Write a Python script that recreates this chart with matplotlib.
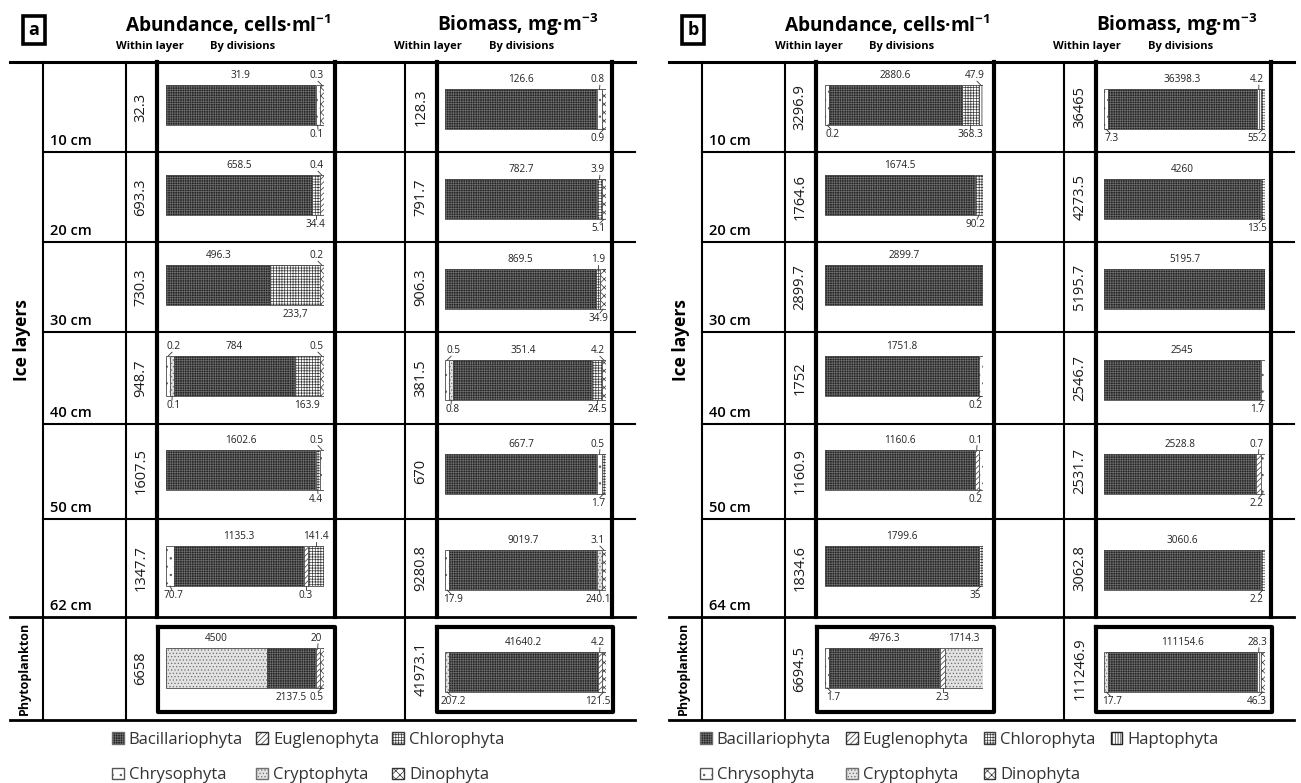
import numpy as np
import matplotlib.pyplot as plt
from matplotlib.patches import Patch

plt.rcParams['font.family'] = ['Open Sans', 'DejaVu Sans']
plt.rcParams['mathtext.default'] = 'regular'
plt.rcParams['hatch.linewidth'] = 0.5

W, H = 1301, 783

# pattern per division: face colour, hatch, hatch colour
styles = {
    "B": ("#232323", "+++++++", "#6c6c6c"),  # Bacillariophyta
    "E": ("white", "//////", "#333333"),     # Euglenophyta
    "C": ("white", "++++++", "#3a3a3a"),     # Chlorophyta
    "H": ("white", "||||||", "#222222"),     # Haptophyta
    "Y": ("white", "..", "#555555"),         # Chrysophyta
    "R": ("#e2e2e2", ".....", "#6f6f6f"),    # Cryptophyta
    "D": ("white", "xxxx", "#333333"),       # Dinophyta
}
names = {"B": "Bacillariophyta", "E": "Euglenophyta", "C": "Chlorophyta", "H": "Haptophyta",
         "Y": "Chrysophyta", "R": "Cryptophyta", "D": "Dinophyta"}

depths_a = ["10 cm", "20 cm", "30 cm", "40 cm", "50 cm", "62 cm"]
depths_b = ["10 cm", "20 cm", "30 cm", "40 cm", "50 cm", "64 cm"]

# totals within layer (last item = phytoplankton)
abund_tot_a = ["32.3", "693.3", "730.3", "948.7", "1607.5", "1347.7", "6658"]
bio_tot_a = ["128.3", "791.7", "906.3", "381.5", "670", "9280.8", "41973.1"]
abund_tot_b = ["3296.9", "1764.6", "2899.7", "1752", "1160.9", "1834.6", "6694.5"]
bio_tot_b = ["36465", "4273.5", "5195.7", "2546.7", "2531.7", "3062.8", "111246.9"]

# by divisions: (division, value, label above/below), left to right
abund_a = [
    [("B", "31.9", "u"), ("Y", "0.1", "d"), ("D", "0.3", "u")],
    [("B", "658.5", "u"), ("C", "34.4", "d"), ("E", "0.4", "u")],
    [("B", "496.3", "u"), ("C", "233,7", "d"), ("D", "0.2", "u")],
    [("Y", "0.2", "u"), ("R", "0.1", "d"), ("B", "784", "u"), ("C", "163.9", "d"), ("D", "0.5", "u")],
    [("B", "1602.6", "u"), ("C", "4.4", "d"), ("Y", "0.5", "u")],
    [("Y", "70.7", "d"), ("B", "1135.3", "u"), ("E", "0.3", "d"), ("C", "141.4", "u")],
    [("R", "4500", "u"), ("B", "2137.5", "d"), ("E", "20", "u"), ("D", "0.5", "d")],
]
bio_a = [
    [("B", "126.6", "u"), ("Y", "0.8", "u"), ("D", "0.9", "d")],
    [("B", "782.7", "u"), ("C", "3.9", "u"), ("D", "5.1", "d")],
    [("B", "869.5", "u"), ("C", "1.9", "u"), ("D", "34.9", "d")],
    [("Y", "0.5", "u"), ("R", "0.8", "d"), ("B", "351.4", "u"), ("C", "24.5", "d"), ("D", "4.2", "u")],
    [("B", "667.7", "u"), ("Y", "0.5", "u"), ("C", "1.7", "d")],
    [("Y", "17.9", "d"), ("B", "9019.7", "u"), ("R", "240.1", "d"), ("D", "3.1", "u")],
    [("R", "207.2", "d"), ("B", "41640.2", "u"), ("E", "4.2", "u"), ("D", "121.5", "d")],
]
abund_b = [
    [("Y", "0.2", "d"), ("B", "2880.6", "u"), ("C", "368.3", "d"), ("H", "47.9", "u")],
    [("B", "1674.5", "u"), ("C", "90.2", "d")],
    [("B", "2899.7", "u")],
    [("B", "1751.8", "u"), ("Y", "0.2", "d")],
    [("B", "1160.6", "u"), ("E", "0.1", "u"), ("Y", "0.2", "d")],
    [("B", "1799.6", "u"), ("C", "35", "d")],
    [("Y", "1.7", "d"), ("B", "4976.3", "u"), ("E", "2.3", "d"), ("R", "1714.3", "u")],
]
bio_b = [
    [("Y", "7.3", "d"), ("B", "36398.3", "u"), ("H", "4.2", "u"), ("C", "55.2", "d")],
    [("B", "4260", "u"), ("C", "13.5", "d")],
    [("B", "5195.7", "u")],
    [("B", "2545", "u"), ("Y", "1.7", "d")],
    [("B", "2528.8", "u"), ("E", "0.7", "u"), ("Y", "2.2", "d")],
    [("B", "3060.6", "u"), ("C", "2.2", "d")],
    [("R", "17.7", "d"), ("B", "111154.6", "u"), ("H", "28.3", "u"), ("D", "46.3", "d")],
]

row_y = [62, 152, 242, 332, 424, 519, 617, 720]

fig = plt.figure(figsize=(W / 100, H / 100), dpi=100)
bg = fig.add_axes([0, 0, 1, 1])
bg.set_xlim(0, W)
bg.set_ylim(H, 0)
bg.axis('off')


def px_axes(x0, x1, y0, y1):
    return fig.add_axes([x0 / W, 1 - y1 / H, (x1 - x0) / W, (y1 - y0) / H])


def draw_bar(ax, segs, row_h, floor=0.028):
    vals = np.array([float(v.replace(',', '.')) for _, v, _ in segs])
    total = vals.sum()
    widths = np.maximum(vals, floor * total)
    lefts = np.concatenate([[0], np.cumsum(widths)[:-1]])
    span = widths.sum()
    ax.set_xlim(0, span)
    ax.set_ylim(0, 1)
    ax.axis('off')
    yc, bh, gap = 0.52, 40 / row_h, 4 / row_h
    top, bot = yc + bh / 2, yc - bh / 2
    big = np.argmax(vals)
    for i, ((g, txt, pos), w, l, v) in enumerate(zip(segs, widths, lefts, vals)):
        face, hatch, hc = styles[g]
        ax.barh(yc, w, left=l, height=bh, color=face, hatch=hatch, edgecolor=hc, linewidth=0)
        ax.barh(yc, w, left=l, height=bh, fill=False, edgecolor='#4a4a4a', linewidth=0.6)
        cx = l + w / 2
        lx = min(max(cx, 0.05 * span), 0.95 * span)
        if pos == 'u':
            ly, va, edge = top + gap, 'bottom', top
        else:
            ly, va, edge = bot - gap, 'top', bot
        ax.text(lx, ly, txt, ha='center', va=va, fontsize=7.2, color='#222222')
        if i != big and v / total < 0.15:
            ax.plot([lx + 0.012 * span * np.sign(cx - lx), cx], [ly, edge],
                    color='#333333', lw=0.6, clip_on=False)


def draw_panel(x0, tag, depths, a_tot, b_tot, a_segs, b_segs):
    lw_thin, lw_thick = 1.5, 3.0
    bg.text(x0 + 34, 30, tag, fontsize=13, weight='bold', ha='center', va='center',
            bbox=dict(boxstyle='square,pad=0.3', fc='white', ec='black', lw=2.6))
    bg.text(x0 + 228, 25, "Abundance, cells·ml$^{-1}$", fontsize=13.8, weight='bold',
            ha='center', va='center')
    bg.text(x0 + 518, 25, "Biomass, mg·m$^{-3}$", fontsize=13.8, weight='bold',
            ha='center', va='center')
    for xc, t in [(150, "Within layer"), (243, "By divisions"), (428, "Within layer"), (522, "By divisions")]:
        bg.text(x0 + xc, 47, t, fontsize=8, weight='bold', ha='center', va='center')

    # table grid
    bg.plot([x0 + 10, x0 + 635], [62, 62], color='black', lw=2.2)
    for y in row_y[1:6]:
        bg.plot([x0 + 43, x0 + 635], [y, y], color='black', lw=lw_thin)
    for y in row_y[6:]:
        bg.plot([x0 + 10, x0 + 635], [y, y], color='black', lw=2.0)
    for x in [43, 126, 405]:
        bg.plot([x0 + x, x0 + x], [62, 720], color='black', lw=lw_thin)
    for x in [157, 335, 437, 612]:
        bg.plot([x0 + x, x0 + x], [62, 617], color='black', lw=lw_thick)
    for xa, xb in [(158, 335), (437, 613)]:
        bg.plot([x0 + xa, x0 + xb, x0 + xb, x0 + xa, x0 + xa], [627, 627, 712, 712, 627],
                color='black', lw=lw_thick)

    bg.text(x0 + 22, 340, "Ice layers", rotation=90, fontsize=12.5, weight='bold',
            ha='center', va='center')
    bg.text(x0 + 24, 668, "Phytoplankton", rotation=90, fontsize=9, weight='bold',
            ha='center', va='center')

    for i in range(7):
        y0, y1 = row_y[i], row_y[i + 1]
        yc = (y0 + y1) / 2
        if i < 6:
            bg.text(x0 + 50, y1 - 7, depths[i], fontsize=10.5, weight='semibold', va='baseline')
            ya, yb = y0, y1
        else:
            ya, yb = 627, 712
        bg.text(x0 + 141, yc, a_tot[i], rotation=90, fontsize=10.5, ha='center', va='center',
                color='#1a1a1a')
        bg.text(x0 + 421, yc, b_tot[i], rotation=90, fontsize=10.5, ha='center', va='center',
                color='#1a1a1a')
        draw_bar(px_axes(x0 + 166, x0 + 324, ya, yb), a_segs[i], yb - ya)
        draw_bar(px_axes(x0 + 445, x0 + 606, ya + 4, yb + 4), b_segs[i], yb - ya)


draw_panel(0, "a", depths_a, abund_tot_a, bio_tot_a, abund_a, bio_a)
draw_panel(659, "b", depths_b, abund_tot_b, bio_tot_b, abund_b, bio_b)


def handles(keys):
    return [Patch(facecolor=styles[k][0], hatch=styles[k][1], edgecolor=styles[k][2],
                  label=names[k]) for k in keys]


leg_kw = dict(frameon=False, loc='upper left', fontsize=12, handlelength=0.7, handleheight=0.7,
              handletextpad=0.3, labelspacing=1.15, borderpad=0, borderaxespad=0,
              labelcolor='#333333')
fig.legend(handles=handles(["B", "Y", "E", "R", "C", "D"]), ncol=3, columnspacing=0.8,
           bbox_to_anchor=(112 / W, 1 - 732 / H), **leg_kw)
fig.legend(handles=handles(["B", "Y", "E", "R", "C", "D", "H"]), ncol=4, columnspacing=0.9,
           bbox_to_anchor=(700 / W, 1 - 732 / H), **leg_kw)

fig.savefig("out.png", dpi=100, facecolor='white')
